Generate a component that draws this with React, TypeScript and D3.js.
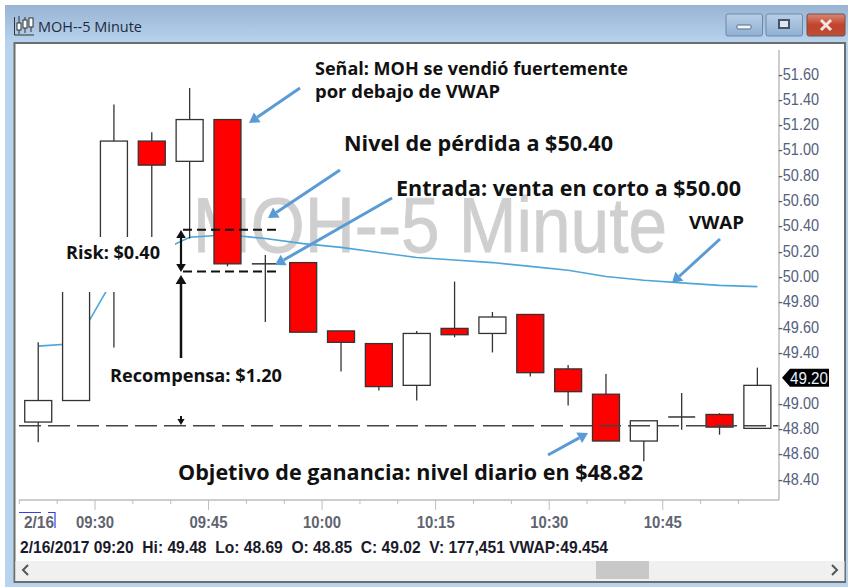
import React from "react";
import * as d3 from "d3";

const W = 851, H = 587;
const barMinutes = [0,5,10,15,20,25,30,35,40,45,50,55,60,65,70,75,80,85,90,95];
const opens  = [48.85,49.02,50.05,51.07,50.91,51.24,50.10,50.11,49.57,49.47,49.14,49.59,49.55,49.70,49.27,49.07,48.70,48.89,48.91,48.80];
const highs  = [49.48,50.30,51.36,51.14,51.49,51.24,50.17,50.11,49.57,49.47,49.57,49.96,49.72,49.70,49.30,49.23,48.86,49.08,48.92,49.28];
const lows   = [48.69,49.02,49.44,50.20,50.30,50.08,49.64,49.56,49.25,49.10,49.02,49.52,49.40,49.21,48.98,48.70,48.54,48.79,48.75,48.80];
const closes = [49.02,50.20,51.07,50.88,51.24,50.10,50.10,49.56,49.48,49.13,49.55,49.54,49.68,49.24,49.09,48.70,48.86,48.89,48.81,49.14];
const vwap   = [49.45,49.47,49.99,50.17,50.31,50.33,50.30,50.26,50.23,50.19,50.15,50.13,50.11,50.08,50.05,50.00,49.97,49.95,49.93,49.92];
const priceTicks = [51.6,51.4,51.2,51.0,50.8,50.6,50.4,50.2,50.0,49.8,49.6,49.4,49.0,48.8,48.6,48.4];
const timeLabels = ["09:30","09:45","10:00","10:15","10:30","10:45"];
const timeLabelMinutes = [10,25,40,55,70,85];
const tickMinutes = d3.range(0, 100, 5);
const stopPrice = 50.37, entryPrice = 50.04, targetPrice = 48.82, lastPrice = 49.2;

const y = d3.scaleLinear().domain([48.4, 51.6]).range([479, 74]);
const x = d3.scaleLinear().domain([0, 100]).range([19.3, 776.3]);
const cx = (m: number) => x(m + 2.5);
const line = d3.line<number>().x((_, i) => cx(barMinutes[i])).y(d => y(d));

const NOTE = "'Open Sans','Noto Sans',sans-serif";
const UI = "'Liberation Sans',Arial,sans-serif";
const BLUE = "#5b9bd5";
const INK = "#333";

function Note({ x, y, w, size, children }: any) {
  return <text x={x} y={y} fontFamily={NOTE} fontWeight={700} fontSize={size} fill="#111" textLength={w} lengthAdjust="spacingAndGlyphs">{children}</text>;
}
function Arrow({ a, b, color = BLUE, sw = 3, head = 10 }: any) {
  const ang = Math.atan2(b[1] - a[1], b[0] - a[0]);
  const hw = head * 0.6;
  const bx = b[0] - Math.cos(ang) * head, by = b[1] - Math.sin(ang) * head;
  const p = (s: number) => `${bx - Math.sin(ang) * hw * s},${by + Math.cos(ang) * hw * s}`;
  return <g>
    <line x1={a[0]} y1={a[1]} x2={bx} y2={by} stroke={color} strokeWidth={sw} />
    <polygon points={`${b[0]},${b[1]} ${p(1)} ${p(-1)}`} fill={color} />
  </g>;
}

export default function App() {
  return (
    <svg width={W} height={H} style={{ position: "absolute", left: 0, top: 0, display: "block" }}>
      <defs>
        <linearGradient id="tb" x1="0" x2="0" y1="0" y2="1">
          <stop offset="0" stopColor="#99b4d3" /><stop offset="1" stopColor="#b8d3ee" />
        </linearGradient>
        <linearGradient id="cl" x1="0" x2="0" y1="0" y2="1">
          <stop offset="0" stopColor="#d88a78" /><stop offset="0.5" stopColor="#c2432c" /><stop offset="1" stopColor="#b8503c" />
        </linearGradient>
        <linearGradient id="bt" x1="0" x2="0" y1="0" y2="1">
          <stop offset="0" stopColor="#b9cfe6" /><stop offset="1" stopColor="#8fb0d3" />
        </linearGradient>
      </defs>
      <rect width={W} height={H} fill="#fff" />
      <rect x={5} y={5} width={843} height={582} fill="#b8d3ee" />
      <rect x={5} y={5} width={843} height={38} fill="url(#tb)" />
      <rect x={14.5} y={43} width={830.5} height={539} fill="#fff" stroke="#6d6d6d" strokeWidth={2} />

      {/* title bar */}
      <g stroke="#333" fill="#fff" strokeWidth={1}>
        <path d="M14.5 17V35H34" fill="none" />
        {[19, 25, 31].map((px, i) => <g key={px}>
          <line x1={px} x2={px} y1={16 + i} y2={34 - i} />
          <rect x={px - 2} y={[23, 20, 18][i]} width={4} height={[7, 8, 9][i]} />
        </g>)}
      </g>
      <text x={38} y={32} fontFamily={NOTE} fontSize={15} fill="#1f2a3d" textLength={104} lengthAdjust="spacingAndGlyphs">MOH--5 Minute</text>
      {[726, 766].map(bx => <rect key={bx} x={bx} y={14} width={36.5} height={22} rx={2} fill="url(#bt)" stroke="#6f88a6" />)}
      <rect x={807} y={14} width={38} height={22} rx={2} fill="url(#cl)" stroke="#7c4a48" />
      <rect x={737} y={25} width={14} height={4} rx={1} fill="#eef3f8" stroke="#5b6d84" />
      <rect x={779} y={20} width={10} height={8} fill="#dfe8f2" stroke="#44546a" strokeWidth={2} />
      <path d="M821 20L831 30M831 20L821 30" stroke="#f3e4df" strokeWidth={3} />

      {/* watermark */}
      <text x={193} y={252} fontFamily={UI} fontSize={77} fill="#cfcfcf" stroke="#cfcfcf" strokeWidth={0.8} textLength={474} lengthAdjust="spacingAndGlyphs">MOH--5 Minute</text>

      {/* VWAP */}
      <path d={line(vwap)!} fill="none" stroke="#4ea6d8" strokeWidth={1.6} />

      {/* candles */}
      {barMinutes.map((m, i) => {
        const o = opens[i], c = closes[i], up = c >= o;
        const top = y(Math.max(o, c)), bottom = y(Math.min(o, c));
        const doji = o === c;
        return <g key={m}>
          <line x1={cx(m)} x2={cx(m)} y1={y(highs[i])} y2={y(lows[i])} stroke={INK} strokeWidth={1.3} />
          {doji
            ? <line x1={cx(m) - 13.5} x2={cx(m) + 13.5} y1={top} y2={top} stroke={INK} strokeWidth={1.5} />
            : <rect x={cx(m) - 13.5} y={top} width={27} height={bottom - top} fill={up ? "#fff" : "#ff0000"} stroke={INK} strokeWidth={1.3} />}
        </g>;
      })}

      {/* white patch hiding the chart behind the Risk label */}
      <rect x={20} y={237} width={155} height={55} fill="#fff" />

      {/* target line */}
      <line x1={19} x2={780} y1={y(targetPrice)} y2={y(targetPrice)} stroke="#444" strokeWidth={1.5} strokeDasharray="22 7" />

      {/* risk and reward */}
      <line x1={183} x2={281} y1={y(stopPrice)} y2={y(stopPrice)} stroke="#111" strokeWidth={2} strokeDasharray="9 5" />
      <line x1={183} x2={281} y1={y(entryPrice)} y2={y(entryPrice)} stroke="#111" strokeWidth={2} strokeDasharray="9 5" />
      <Arrow a={[181, 251]} b={[181, 230]} color="#111" sw={2.2} head={8} />
      <Arrow a={[181, 251]} b={[181, 272]} color="#111" sw={2.2} head={8} />
      <Arrow a={[181, 358]} b={[181, 275]} color="#111" sw={2.5} head={9} />
      <Arrow a={[181, 416]} b={[181, 425]} color="#111" sw={2} head={6} />

      {/* blue callouts */}
      <Arrow a={[300, 88]} b={[249, 123]} />
      <Arrow a={[340, 170]} b={[268, 218]} />
      <Arrow a={[392, 198]} b={[275, 265]} />
      <Arrow a={[720, 239]} b={[672, 283]} />
      <Arrow a={[548, 455]} b={[588, 433]} />

      {/* notes */}
      <Note x={315} y={75} w={313} size={17}>Señal: MOH se vendió fuertemente</Note>
      <Note x={315} y={98} w={185} size={17}>por debajo de VWAP</Note>
      <Note x={344} y={151} w={269} size={21}>Nivel de pérdida a $50.40</Note>
      <Note x={396} y={196} w={345} size={21}>Entrada: venta en corto a $50.00</Note>
      <Note x={689} y={229} w={55} size={17}>VWAP</Note>
      <Note x={66} y={259} w={94} size={17}>Risk: $0.40</Note>
      <Note x={110} y={382} w={172} size={17}>Recompensa: $1.20</Note>
      <Note x={178} y={480} w={465} size={21}>Objetivo de ganancia: nivel diario en $48.82</Note>

      {/* price axis */}
      <line x1={779} x2={779} y1={50} y2={500} stroke="#bdbdbd" strokeWidth={1.5} />
      {priceTicks.map(t => <text key={t} x={778} y={y(t) + 5.5} fontFamily={UI} fontSize={17} fill="#55607a" textLength={41} lengthAdjust="spacingAndGlyphs">{"-" + d3.format(".2f")(t)}</text>)}
      <polygon points={`782,${y(lastPrice)} 790,${y(lastPrice) - 9} 829,${y(lastPrice) - 9} 829,${y(lastPrice) + 9} 790,${y(lastPrice) + 9}`} fill="#000" />
      <text x={790} y={y(lastPrice) + 6} fontFamily={UI} fontSize={17} fill="#e8f2ff" textLength={38} lengthAdjust="spacingAndGlyphs">{d3.format(".2f")(lastPrice)}</text>

      {/* time axis */}
      <line x1={19} x2={779} y1={500} y2={500} stroke="#bdbdbd" strokeWidth={1.5} />
      {tickMinutes.map(m => <line key={m} x1={x(m)} x2={x(m)} y1={500} y2={timeLabelMinutes.includes(m) ? 510 : 504} stroke="#bdbdbd" />)}
      {timeLabels.map((t, i) => <text key={t} x={x(timeLabelMinutes[i])} y={528} textAnchor="middle" fontFamily={UI} fontWeight={700} fontSize={16} fill="#5f6470" textLength={38} lengthAdjust="spacingAndGlyphs">{t}</text>)}
      <path d="M19 512.5H41M48 512.5H55V528" fill="none" stroke="#3b3bf0" strokeWidth={1.2} />
      <text x={24} y={528} fontFamily={UI} fontWeight={700} fontSize={16} fill="#5f6470" textLength={30} lengthAdjust="spacingAndGlyphs">2/16</text>

      {/* status line */}
      <text x={20} y={553} fontFamily={UI} fontWeight={700} fontSize={16.5} fill="#1a1a2a" textLength={588} lengthAdjust="spacingAndGlyphs" style={{ whiteSpace: "pre" }}>2/16/2017 09:20  Hi: 49.48  Lo: 48.69  O: 48.85  C: 49.02  V: 177,451 VWAP:49.454</text>

      {/* scrollbar */}
      <rect x={15.5} y={561} width={829} height={20} fill="#f0f0f0" />
      <rect x={596} y={561} width={53} height={18} fill="#c8c8c8" />
      <path d="M28 565L23 570L28 575M832 565L837 570L832 575" fill="none" stroke="#555" strokeWidth={2} />
    </svg>
  );
}
